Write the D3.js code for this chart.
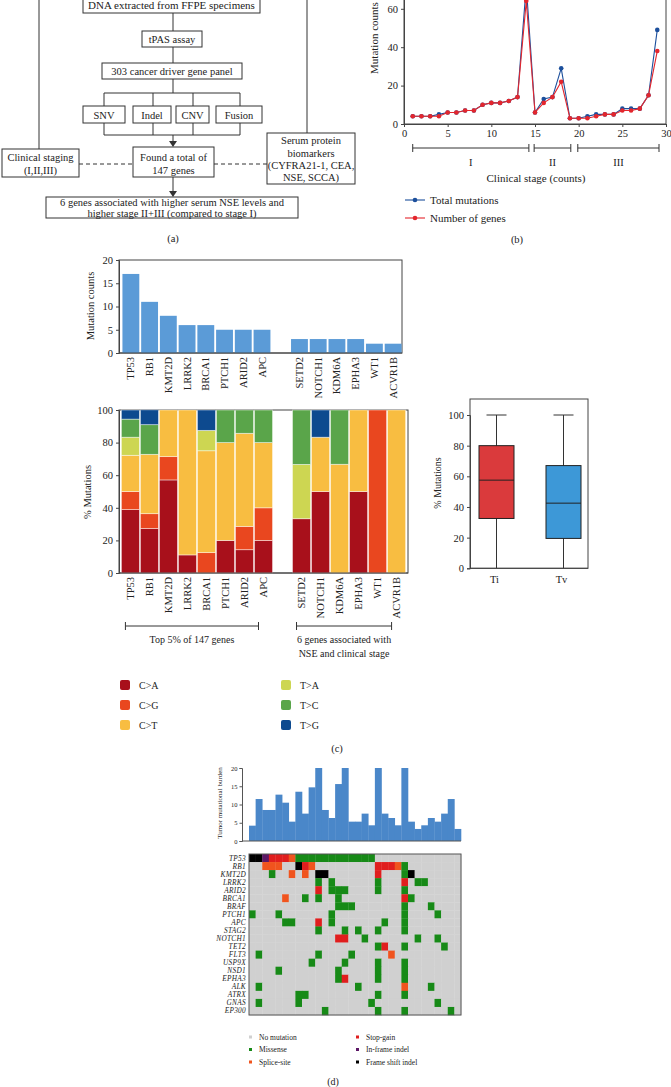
<!DOCTYPE html>
<html><head><meta charset="utf-8">
<script src="https://cdn.jsdelivr.net/npm/d3@7"></script>
<style>
html,body{margin:0;padding:0;background:#fff;}
svg{display:block;}
text{font-family:"Liberation Serif","DejaVu Serif",serif;fill:#222;}
</style></head>
<body>
<svg id="chart" width="671" height="1087"></svg>
<script>
// ---------------- DATA ----------------
// Panel (b)
const patients = [1,2,3,4,5,6,7,8,9,10,11,12,13,14,15,16,17,18,19,20,21,22,23,24,25,26,27,28,29];
const totalMutations = [4,4,4,5,6,6,7,7,10,11,11,12,14,72,6,13,14,29,3,3,4,5,5,5,8,8,8,15,49];
const numberOfGenes  = [4,4,4,4,6,6,7,7,10,11,11,12,14,64,6,11,14,22,3,3,3,4,5,5,7,7,8,15,38];
const bXTicks = [0,5,10,15,20,25,30];
const bYTicks = [0,20,40,60];
const stageLabels = ["I","II","III"];
const stageFrom = [1,14.9,19.9];
const stageTo = [14.3,19.1,29.2];

// Panel (c)
const topGenes = ["TP53","RB1","KMT2D","LRRK2","BRCA1","PTCH1","ARID2","APC"];
const nseGenes = ["SETD2","NOTCH1","KDM6A","EPHA3","WT1","ACVR1B"];
const mutationCounts = [17,11,8,6,6,5,5,5,3,3,3,3,2,2];
const countTicks = [0,5,10,15,20];
const pctTicks = [0,20,40,60,80,100];
const substitutions = ["C>A","C>G","C>T","T>A","T>C","T>G"];
const pctCA = [38.9,27.3,57.1,11.1,0,20,14.3,20, 33.3,50,0,50,0,0];
const pctCG = [11.1,9.1,14.3,0,12.5,0,14.3,20, 0,0,0,0,100,0];
const pctCT = [22.2,36.4,28.6,88.9,62.5,60,57.1,40, 0,33.3,66.7,50,0,100];
const pctTA = [11.1,0,0,0,12.5,0,0,0, 33.3,0,0,0,0,0];
const pctTC = [11.1,18.2,0,0,0,20,14.3,20, 33.4,0,33.3,0,0,0];
const pctTG = [5.6,9.1,0,0,12.5,0,0,0, 0,16.7,0,0,0,0];
const substColors = ["#a8101b","#e9471f","#f8bd41","#cdd652","#5aa54a","#0d4a8f"];
const boxGroups = ["Ti","Tv"];
const boxMin = [0,0];
const boxQ1 = [32.5,19.5];
const boxMed = [57.5,42.5];
const boxQ3 = [80,67];
const boxMax = [100,100];
const boxColors = ["#da3a3c","#3d98d7"];

// Panel (d)
const tmb = [4.2,11.5,8.5,8.5,12.7,10.5,5.3,13.5,7.5,14.7,20,8.5,6.3,15.6,20,5.3,5.3,7.5,4.3,20,7.5,6.3,4.3,20,5.3,3.3,4.3,6.3,5.3,7.5,11.5,3.3];
const tmbTicks = [0,5,10,15,20];
const heatGenes = ["TP53","RB1","KMT2D","LRRK2","ARID2","BRCA1","BRAF","PTCH1","APC","STAG2","NOTCH1","TET2","FLT3","USP9X","NSD1","EPHA3","ALK","ATRX","GNAS","EP300"];
const missense = {TP53:[7,8,9,10,11,12,13,14,15,16,17,18],RB1:[23],KMT2D:[3,23],LRRK2:[10,12,19,25,26],ARID2:[12,13,14,19,23],BRCA1:[8,10,13,24],BRAF:[13,14,15,23,27],PTCH1:[0,4,12,23,28],APC:[5,6,12,20,23],STAG2:[10,14,16,19,23],NOTCH1:[17,25,28],TET2:[19,23,29],FLT3:[1,10,15],USP9X:[9,14,19,23],NSD1:[4,13,19,23],EPHA3:[13,19,23],ALK:[1,16,27],ATRX:[7,8,19,23],GNAS:[1,7,18,28],EP300:[11,19,23,30]};
const stopGain = {TP53:[3,4,5],RB1:[8,19,20,21],KMT2D:[19],LRRK2:[23],ARID2:[10],BRCA1:[23],APC:[10],NOTCH1:[13,14],TET2:[20],EPHA3:[14]};
const spliceSite = {TP53:[6],RB1:[2,3,4,9,22],KMT2D:[6,8],BRCA1:[5],FLT3:[21],ALK:[23]};
const frameShift = {TP53:[0,1],RB1:[7],KMT2D:[10,11,24]};
const inFrame = {TP53:[2]};
const heatLegend = ["No mutation","Missense","Splice-site","Stop-gain","In-frame indel","Frame shift indel"];
const heatColors = {none:"#d0d0d0",missense:"#178a17",splice:"#f0541e",stop:"#e01e1e",inframe:"#5c1766",frameshift:"#000000"};

// ---------------- DRAW ----------------
const svg = d3.select("#chart");
svg.append("rect").attr("width",671).attr("height",1087).attr("fill","#fff");

// ===== Panel (a): flowchart =====
const A = svg.append("g").attr("font-size",10.5);
const line = (x1,y1,x2,y2,dash)=>A.append("line").attr("x1",x1).attr("y1",y1).attr("x2",x2).attr("y2",y2)
  .attr("stroke","#333").attr("stroke-width",1).attr("stroke-dasharray",dash||null);
function box(x,y,w,h,lines,baselines,fs){
  A.append("rect").attr("x",x).attr("y",y).attr("width",w).attr("height",h).attr("fill","#fff").attr("stroke","#333").attr("stroke-width",1);
  lines.forEach((t,i)=>A.append("text").attr("x",x+w/2).attr("y",baselines[i]).attr("text-anchor","middle").attr("font-size",fs||10.5).text(t));
}
line(39,0,39,149); line(307,0,307,133);
line(173,13,173,31); line(173,47,173,63); line(173,79,173,93);
line(104,93,240,93);
[104,153,193,240].forEach(x=>{line(x,93,x,106); line(x,123,x,135);});
line(104,135,240,135);
line(173,135,173,145);
A.append("path").attr("d","M169,141 L177,141 L173,147 Z").attr("fill","#333");
line(173,177,173,195);
A.append("path").attr("d","M169,191 L177,191 L173,197 Z").attr("fill","#333");
line(79,164,133,164,"4,3"); line(214,164,267,164,"4,3");
box(83,-12,177,25,["DNA extracted from FFPE specimens"],[8.5],11);
box(142,31,60,16,["tPAS assay"],[43]);
box(102,63,140,16,["303 cancer driver gene panel"],[75]);
box(83,106,42,17,["SNV"],[118.5]);
box(133,106,38,17,["Indel"],[118.5]);
box(176,106,33,17,["CNV"],[118.5]);
box(216,106,46,17,["Fusion"],[118.5]);
box(133,147,81,30,["Found a total of","147 genes"],[160.5,173.5]);
box(2,149,77,28,["Clinical staging","(I,II,III)"],[161,174]);
box(267,133,88,51,["Serum protein","biomarkers","(CYFRA21-1, CEA,","NSE, SCCA)"],[144,156.5,169,181]);
box(46,197,252,21,["6 genes associated with higher serum NSE levels and","higher stage II+III (compared to stage I)"],[206,216.5]);
A.append("text").attr("x",173).attr("y",242).attr("text-anchor","middle").attr("font-size",10.5).text("(a)");

// ===== Panel (b): line chart =====
const B = svg.append("g");
const bx = d3.scaleLinear().domain([0,30]).range([404,666]);
const by = d3.scaleLinear().domain([0,80]).range([124,124-153.6]);
B.append("rect").attr("x",bx(0)).attr("y",by(80)).attr("width",bx(30)-bx(0)).attr("height",by(0)-by(80))
  .attr("fill","none").attr("stroke","#444").attr("stroke-width",1);
const bxAxis = B.append("g").attr("transform",`translate(0,${by(0)})`)
  .call(d3.axisBottom(bx).tickValues(bXTicks).tickSize(3).tickPadding(3));
const byAxis = B.append("g").attr("transform",`translate(${bx(0)},0)`)
  .call(d3.axisLeft(by).tickValues(bYTicks).tickSize(3).tickPadding(3));
[bxAxis,byAxis].forEach(g=>{g.select(".domain").attr("stroke","#444");g.selectAll("line").attr("stroke","#444");
  g.selectAll("text").attr("font-family","Liberation Serif").attr("font-size",10.5).attr("fill","#222");});
B.append("text").attr("transform",`translate(378,38) rotate(-90)`).attr("text-anchor","middle")
  .attr("font-size",11).text("Mutation counts");
const series = [{vals:totalMutations,color:"#1c4f9c",name:"Total mutations"},{vals:numberOfGenes,color:"#e3262d",name:"Number of genes"}];
series.forEach(s=>{
  const pts = patients.map((p,i)=>[p,s.vals[i]]);
  B.append("path").datum(pts).attr("fill","none").attr("stroke",s.color).attr("stroke-width",1.1)
    .attr("d",d3.line().x(d=>bx(d[0])).y(d=>by(d[1])));
  B.selectAll(null).data(pts).enter().append("circle").attr("cx",d=>bx(d[0])).attr("cy",d=>by(d[1])).attr("r",2.3).attr("fill",s.color);
});
stageLabels.forEach((lab,i)=>{
  const x1=bx(stageFrom[i]), x2=bx(stageTo[i]), y=148;
  B.append("line").attr("x1",x1).attr("x2",x2).attr("y1",y).attr("y2",y).attr("stroke","#333");
  B.append("line").attr("x1",x1).attr("x2",x1).attr("y1",y-4).attr("y2",y+4).attr("stroke","#333");
  B.append("line").attr("x1",x2).attr("x2",x2).attr("y1",y-4).attr("y2",y+4).attr("stroke","#333");
  B.append("text").attr("x",(x1+x2)/2).attr("y",166).attr("text-anchor","middle").attr("font-size",10.5).text(lab);
});
B.append("text").attr("x",536).attr("y",182).attr("text-anchor","middle").attr("font-size",11).text("Clinical stage (counts)");
series.forEach((s,i)=>{
  const y = 200+i*18;
  B.append("line").attr("x1",405).attr("x2",425).attr("y1",y).attr("y2",y).attr("stroke",s.color).attr("stroke-width",1.1);
  B.append("circle").attr("cx",415).attr("cy",y).attr("r",2.3).attr("fill",s.color);
  B.append("text").attr("x",430).attr("y",y+4).attr("font-size",11).text(s.name);
});
B.append("text").attr("x",517).attr("y",243).attr("text-anchor","middle").attr("font-size",10.5).text("(b)");

// ===== Panel (c) =====
const C = svg.append("g");
const allGenes = [...topGenes, ...nseGenes];
const slotDomain = [...topGenes, "__gap__", ...nseGenes];
function styleAxis(g){g.select(".domain").attr("stroke","#444");g.selectAll("line").attr("stroke","#444");
  g.selectAll("text").attr("font-family","Liberation Serif").attr("font-size",10.5).attr("fill","#222");}
function rotLabels(scale, yTop){
  C.selectAll(null).data(allGenes).enter().append("text")
    .attr("transform",d=>`translate(${scale(d)+scale.bandwidth()/2+3.5},${yTop}) rotate(-90)`)
    .attr("text-anchor","end").attr("font-size",10.5).text(d=>d);
}
// bar chart
const cx1 = d3.scaleBand().domain(slotDomain).range([121.5,402.5]).paddingInner(0.1).paddingOuter(0.05);
const cy1 = d3.scaleLinear().domain([0,20]).range([353,260]);
C.append("rect").attr("x",119).attr("y",cy1(20)).attr("width",402-119).attr("height",cy1(0)-cy1(20)).attr("fill","none").attr("stroke","#444");
C.selectAll(null).data(allGenes).enter().append("rect")
  .attr("x",d=>cx1(d)).attr("width",cx1.bandwidth())
  .attr("y",(d,i)=>cy1(mutationCounts[i])).attr("height",(d,i)=>cy1(0)-cy1(mutationCounts[i]))
  .attr("fill","#5b9bd7");
const cy1Axis = C.append("g").attr("transform","translate(119,0)").call(d3.axisLeft(cy1).tickValues(countTicks).tickSize(3).tickPadding(3));
styleAxis(cy1Axis);
C.append("line").attr("x1",119).attr("x2",402).attr("y1",cy1(0)).attr("y2",cy1(0)).attr("stroke","#444");
C.append("text").attr("transform","translate(94,306) rotate(-90)").attr("text-anchor","middle").attr("font-size",10.5).text("Mutation counts");
rotLabels(cx1, 357);

// stacked chart
const cx2 = d3.scaleBand().domain(slotDomain).range([121,406]).paddingInner(0.05).paddingOuter(0.02);
const cy2 = d3.scaleLinear().domain([0,100]).range([573,410]);
const stackRows = allGenes.map((g,i)=>({gene:g,"C>A":pctCA[i],"C>G":pctCG[i],"C>T":pctCT[i],"T>A":pctTA[i],"T>C":pctTC[i],"T>G":pctTG[i]}));
const stacked = d3.stack().keys(substitutions)(stackRows);
C.append("rect").attr("x",119).attr("y",cy2(100)).attr("width",408-119).attr("height",cy2(0)-cy2(100)).attr("fill","none").attr("stroke","#444");
stacked.forEach((layer,k)=>{
  C.selectAll(null).data(layer.filter(d=>d[1]-d[0]>0)).enter().append("rect")
    .attr("x",d=>cx2(d.data.gene)).attr("width",cx2.bandwidth())
    .attr("y",d=>cy2(d[1])).attr("height",d=>cy2(d[0])-cy2(d[1]))
    .attr("fill",substColors[k]).attr("stroke","#fff").attr("stroke-opacity",0.55).attr("stroke-width",0.8);
});
const cy2Axis = C.append("g").attr("transform","translate(119,0)").call(d3.axisLeft(cy2).tickValues(pctTicks).tickSize(3).tickPadding(3));
styleAxis(cy2Axis);
C.append("line").attr("x1",119).attr("x2",408).attr("y1",cy2(0)).attr("y2",cy2(0)).attr("stroke","#444");
C.append("text").attr("transform","translate(91,492) rotate(-90)").attr("text-anchor","middle").attr("font-size",10.5).text("% Mutations");
rotLabels(cx2, 577);
// brackets
const groups = [{genes:topGenes,lines:["Top 5% of 147 genes"]},{genes:nseGenes,lines:["6 genes associated with","NSE and clinical stage"]}];
groups.forEach(gr=>{
  const x1 = cx2(gr.genes[0])+cx2.bandwidth()/2-5, x2 = cx2(gr.genes[gr.genes.length-1])+cx2.bandwidth()/2-5, y=626;
  C.append("line").attr("x1",x1).attr("x2",x2).attr("y1",y).attr("y2",y).attr("stroke","#333");
  [x1,x2].forEach(x=>C.append("line").attr("x1",x).attr("x2",x).attr("y1",y-4).attr("y2",y+4).attr("stroke","#333"));
  gr.lines.forEach((t,i)=>C.append("text").attr("x",(x1+x2)/2).attr("y",643+i*14).attr("text-anchor","middle").attr("font-size",10).text(t));
});
// legend
substitutions.forEach((s,i)=>{
  const col = Math.floor(i/3), row = i%3;
  const x = col===0?120:281, y = 680+row*20;
  C.append("rect").attr("x",x).attr("y",y).attr("width",10).attr("height",10).attr("rx",2).attr("fill",substColors[i]);
  C.append("text").attr("x",x+19).attr("y",y+8.5).attr("font-size",10).text(s);
});
C.append("text").attr("x",337).attr("y",752).attr("text-anchor","middle").attr("font-size",10.5).text("(c)");

// boxplot
const bpx = d3.scaleBand().domain(boxGroups).range([463,597]);
const bpy = d3.scaleLinear().domain([0,100]).range([568.3,415]);
C.append("rect").attr("x",470).attr("y",399).attr("width",118).attr("height",568.3-399).attr("fill","none").attr("stroke","#444");
boxGroups.forEach((g,i)=>{
  const cx = bpx(g)+bpx.bandwidth()/2, w=35, cap=20;
  C.append("line").attr("x1",cx).attr("x2",cx).attr("y1",bpy(boxMax[i])).attr("y2",bpy(boxMin[i])).attr("stroke","#333").attr("stroke-width",1);
  C.append("line").attr("x1",cx-cap/2).attr("x2",cx+cap/2).attr("y1",bpy(boxMax[i])).attr("y2",bpy(boxMax[i])).attr("stroke","#333");
  C.append("rect").attr("x",cx-w/2).attr("y",bpy(boxQ3[i])).attr("width",w).attr("height",bpy(boxQ1[i])-bpy(boxQ3[i]))
    .attr("fill",boxColors[i]).attr("stroke","#222").attr("stroke-width",1);
  C.append("line").attr("x1",cx-w/2).attr("x2",cx+w/2).attr("y1",bpy(boxMed[i])).attr("y2",bpy(boxMed[i])).attr("stroke","#222").attr("stroke-width",1);
  C.append("text").attr("x",cx-2).attr("y",583).attr("text-anchor","middle").attr("font-size",10.5).text(g);
});
const bpyAxis = C.append("g").attr("transform","translate(470,0)").call(d3.axisLeft(bpy).tickValues(pctTicks).tickSize(3).tickPadding(3));
styleAxis(bpyAxis);
C.append("line").attr("x1",470).attr("x2",588).attr("y1",568.3).attr("y2",568.3).attr("stroke","#444");
C.append("text").attr("transform","translate(441,483) rotate(-90)").attr("text-anchor","middle").attr("font-size",10).text("% Mutations");

// ===== Panel (d) =====
const D = svg.append("g");
const cols = tmb.map((v,i)=>i);
const dx = d3.scaleBand().domain(cols).range([249,461]);
const dy = d3.scaleLinear().domain([0,20]).range([841,768]);
D.selectAll(null).data(tmb).enter().append("rect")
  .attr("x",(d,i)=>dx(i)).attr("width",dx.bandwidth()+0.3)
  .attr("y",d=>dy(d)).attr("height",d=>dy(0)-dy(d)).attr("fill","#4a87c9");
const dyAxis = D.append("g").attr("transform","translate(242,0)").call(d3.axisLeft(dy).tickValues(tmbTicks).tickSize(2.5).tickPadding(2));
dyAxis.select(".domain").attr("stroke","#555");dyAxis.selectAll("line").attr("stroke","#555");
dyAxis.selectAll("text").attr("font-family","Liberation Serif").attr("font-size",6.5).attr("fill","#333");
D.append("line").attr("x1",242).attr("x2",461).attr("y1",841).attr("y2",841).attr("stroke","#555");
D.append("text").attr("transform","translate(222,803) rotate(-90)").attr("text-anchor","middle").attr("font-size",7).text("Tumor mutational burden");

const hy = d3.scaleBand().domain(heatGenes).range([854,1015]);
const cellType = {};
const addType=(obj,t)=>Object.entries(obj).forEach(([g,cs])=>cs.forEach(c=>cellType[g+"|"+c]=t));
addType(missense,"missense");addType(stopGain,"stop");addType(spliceSite,"splice");addType(frameShift,"frameshift");addType(inFrame,"inframe");
const cells = [];
heatGenes.forEach(g=>cols.forEach(c=>cells.push({g,c,t:cellType[g+"|"+c]||"none"})));
D.selectAll(null).data(cells).enter().append("rect")
  .attr("x",d=>dx(d.c)).attr("y",d=>hy(d.g)).attr("width",dx.bandwidth()+0.3).attr("height",hy.bandwidth()+0.3)
  .attr("fill",d=>heatColors[d.t]);
D.append("rect").attr("x",249).attr("y",854).attr("width",212).attr("height",161).attr("fill","none").attr("stroke","#555").attr("stroke-width",1);
D.selectAll(null).data(heatGenes).enter().append("text")
  .attr("x",246).attr("y",d=>hy(d)+hy.bandwidth()/2+2.5).attr("text-anchor","end")
  .attr("font-size",7.3).attr("font-style","italic").attr("letter-spacing",0.3).text(d=>d);
// legend d
const legKeys = ["none","missense","splice","stop","inframe","frameshift"];
heatLegend.forEach((t,i)=>{
  const col=Math.floor(i/3), row=i%3, x = col===0?249:356, y=1037+row*12.5;
  D.append("rect").attr("x",x).attr("y",y-1.5).attr("width",3).attr("height",3).attr("fill",heatColors[legKeys[i]]);
  D.append("text").attr("x",x+10).attr("y",y+2.5).attr("font-size",7.5).text(t);
});
D.append("text").attr("x",333).attr("y",1085).attr("text-anchor","middle").attr("font-size",10).text("(d)");
</script>
</body></html>
